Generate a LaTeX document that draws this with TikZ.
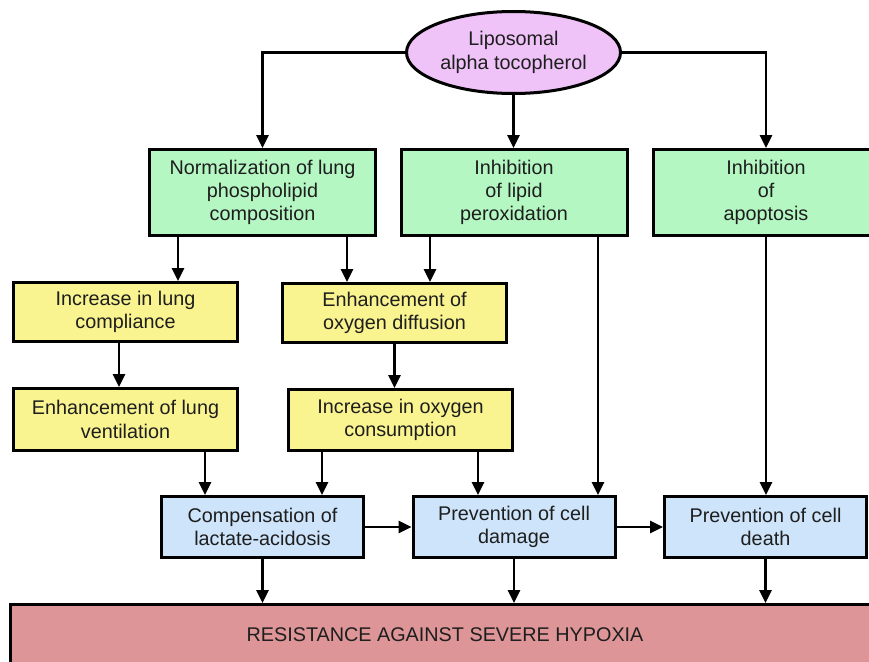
\documentclass[tikz,border=0pt]{standalone}
\usepackage{fontspec}
\setmainfont{Liberation Sans}
\usetikzlibrary{arrows.meta,shapes.geometric}
\definecolor{pinkfill}{HTML}{EFC2F8}
\definecolor{greenfill}{HTML}{B4F7C2}
\definecolor{yellowfill}{HTML}{F9F490}
\definecolor{bluefill}{HTML}{CDE4FA}
\definecolor{redfill}{HTML}{DE9597}
\definecolor{txt}{HTML}{1E1E1E}
\tikzset{
  box/.style={draw=black, line width=3pt, align=center, text=txt, inner sep=0pt,
    font=\fontsize{19.8}{23.3}\selectfont},
  gbox/.style={box, fill=greenfill, minimum width=226pt, minimum height=86pt},
  ybox/.style={box, fill=yellowfill, minimum width=224pt},
  bbox/.style={box, fill=bluefill, minimum width=202pt, minimum height=61pt},
  arr/.style={line width=2.8pt, -{Triangle[length=13pt,width=12pt]}},
}
\begin{document}
\begin{tikzpicture}[x=1pt,y=-1pt]
\useasboundingbox (0,0) rectangle (869,661);
\node[box, ellipse, fill=pinkfill, minimum width=214pt, minimum height=82pt] (lat) at (513.5,52.5) {Liposomal\\alpha tocopherol};
\node[gbox] (g1) at (262.5,192.5) {Normalization of lung\\phospholipid\\composition};
\node[gbox] (g2) at (514,192.5) {Inhibition\\of lipid\\peroxidation};
\node[gbox] (g3) at (766,192.5) {Inhibition\\of\\apoptosis};
\node[ybox, minimum height=59pt] (y1) at (125.5,312) {Increase in lung\\compliance};
\node[ybox, minimum height=59pt] (y2) at (394.5,313) {Enhancement of\\oxygen diffusion};
\node[ybox, minimum height=62pt] (y3) at (125.5,419.5) {Enhancement of lung\\ventilation};
\node[ybox, minimum height=61pt] (y4) at (400.5,420) {Increase in oxygen\\consumption};
\node[bbox] (b1) at (262.5,527) {Compensation of\\lactate-acidosis};
\node[bbox] (b2) at (514,527) {Prevention of cell\\damage};
\node[bbox] (b3) at (765.5,527) {Prevention of cell\\death};
\node[box, fill=redfill, anchor=north, minimum width=870pt, minimum height=60pt] (bar) at (445,603) {RESISTANCE AGAINST SEVERE HYPOXIA};
% connectors from the ellipse
\draw[arr] (lat.west) -| (g1.north);
\draw[arr] (lat.south) -- (lat.south |- g2.north);
\draw[arr] (lat.east) -| (g3.north);
% green to lower levels
\draw[arr] ([xshift=-84.5pt]g1.south) -- ([xshift=-84.5pt]g1.south |- y1.north);
\draw[arr] ([xshift=84.5pt]g1.south) -- ([xshift=84.5pt]g1.south |- y2.north);
\draw[arr] ([xshift=-84pt]g2.south) -- ([xshift=-84pt]g2.south |- y2.north);
\draw[arr] ([xshift=84pt]g2.south) -- ([xshift=84pt]g2.south |- b2.north);
\draw[arr] (g3.south) -- (g3.south |- b3.north);
% yellow chain
\draw[arr] ([xshift=-6.5pt]y1.south) -- ([xshift=-6.5pt]y1.south |- y3.north);
\draw[arr] (y2.south) -- (y2.south |- y4.north);
\draw[arr] ([xshift=79.5pt]y3.south) -- ([xshift=79.5pt]y3.south |- b1.north);
\draw[arr] ([xshift=-78.5pt]y4.south) -- ([xshift=-78.5pt]y4.south |- b1.north);
\draw[arr] ([xshift=77.5pt]y4.south) -- ([xshift=77.5pt]y4.south |- b2.north);
% blue row
\draw[arr] (b1.east) -- (b2.west);
\draw[arr] (b2.east) -- (b3.west);
\draw[arr] (b1.south) -- (b1.south |- bar.north);
\draw[arr] (b2.south) -- (b2.south |- bar.north);
\draw[arr] (b3.south) -- (b3.south |- bar.north);
\end{tikzpicture}
\end{document}
